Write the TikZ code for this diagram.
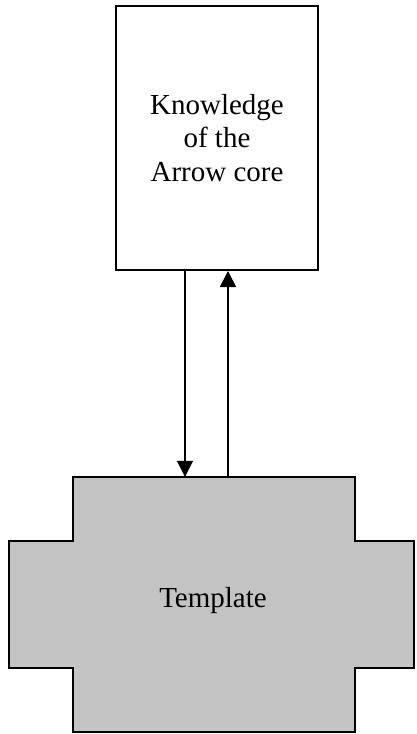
\documentclass[tikz,border=0pt]{standalone}
\usepackage{fontspec}
\setmainfont{Liberation Serif}
\usetikzlibrary{arrows.meta}
\definecolor{plategray}{HTML}{C3C3C3}
\begin{document}
\begin{tikzpicture}[x=1pt,y=-1pt,
  bigtext/.style={font=\fontsize{29}{33.5}\selectfont},
  corebox/.style={draw, line width=2pt, inner sep=0pt, align=center, bigtext},
  crossline/.style={draw=black, fill=plategray, line width=2pt, line join=miter},
  flow/.style={line width=1.6pt, -{Triangle[length=16pt,width=16pt]}}]
\useasboundingbox (0,0) rectangle (416,734);

% knowledge box
\node[corebox, minimum width=202pt, minimum height=264pt, anchor=north west]
  (know) at (115,5) {Knowledge\\of the\\Arrow core};

% cross-shaped template plate
\path[crossline] (73,477) -- (355,477) -- (355,541) -- (414,541) -- (414,668)
  -- (355,668) -- (355,732) -- (73,732) -- (73,668) -- (9,668) -- (9,541)
  -- (73,541) -- cycle;
\node[minimum width=282pt, minimum height=255pt, inner sep=0pt] (tmpl) at (214,604.5) {};
\node[bigtext, anchor=base, inner sep=0pt] (tlabel) at (213,607) {Template};

% connectors
\coordinate (dn) at (185,0);
\coordinate (up) at (228,0);
\draw[flow] (know.south -| dn) -- (tmpl.north -| dn);
\draw[flow] (tmpl.north -| up) -- (know.south -| up);
\end{tikzpicture}
\end{document}
